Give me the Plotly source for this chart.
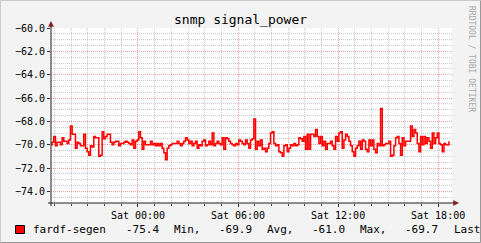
import plotly.graph_objects as go
import pandas as pd

# ---- data ----
series_name = "fardf-segen"
start_time = "2024-01-05 18:45"
step_minutes = 6
values = [
    # Fri 18:45 ..
    -70.0, -69.8, -69.3, -70.1, -69.8, -69.8, -70.0, -69.4, -69.7, -69.7,
    -69.9, -69.6, -68.4, -69.1, -69.1, -70.3, -69.8, -69.9, -70.1, -70.1,
    -69.1, -70.3, -70.6, -70.9, -70.1, -70.2, -69.3, -69.4, -69.4, -71.0,
    -70.9, -68.9, -69.5, -69.3, -69.1, -69.1, -69.8, -70.0, -69.8, -69.7,
    -69.7, -70.1, -69.9, -69.9, -69.8, -69.7, -69.8, -69.9, -70.0, -69.6,
    -70.3, -69.7, -69.6, -68.9, -69.4, -70.4, -69.7, -70.0, -70.0, -70.0,
    -69.7, -70.0, -69.9,
    -70.1, -69.9, -70.1, -69.9, -70.3, -70.7, -71.3, -70.3, -70.1, -70.0,
    -69.9, -69.9, -69.9, -69.7, -69.9, -70.1, -69.9, -69.7, -69.4, -69.6,
    -69.9, -69.7, -70.1, -69.9, -69.7, -70.3, -70.0, -70.1, -69.7, -69.6,
    -70.1, -70.0, -69.7, -70.0, -69.0, -70.1, -69.9, -69.7, -69.9, -70.0,
    -69.4, -70.4, -69.4, -69.5, -69.7, -69.9, -70.0, -70.1, -69.9, -70.0,
    -69.6, -69.7, -69.9, -70.0, -69.6, -69.9, -70.3, -69.6, -69.5,
    -67.8, -70.4, -69.7, -70.1, -69.6, -70.4, -70.3, -70.6, -70.3, -69.9,
    -69.0, -68.9, -69.9, -70.1, -70.0, -70.6, -70.7, -71.0, -70.1, -70.0,
    -70.6, -70.3, -70.0, -70.1, -69.9, -70.1, -70.0, -69.4, -69.5, -69.7,
    -69.3, -70.4, -69.1, -70.4, -69.1, -69.1, -69.3, -68.7, -69.3, -69.9,
    -69.3, -70.1, -69.7, -70.4, -69.9, -69.9, -69.7, -70.1, -70.4, -69.3,
    -69.7, -69.0, -68.9, -70.3, -69.6, -69.1, -69.3, -69.7, -70.1, -70.6,
    -71.0,
    -70.3, -70.1, -69.7, -70.4, -69.6, -69.7, -70.4, -70.6, -69.6, -70.1,
    -69.6, -70.4, -70.7, -69.9, -70.1, -66.9, -70.1, -70.0, -69.9, -69.9,
    -69.7, -71.0, -70.9, -70.1, -69.4, -69.3, -69.9, -70.9, -69.4, -70.1,
    -69.7, -69.7, -69.7, -68.4, -69.3, -68.7, -69.0, -69.9, -70.6, -69.3,
    -70.0, -69.3, -69.9, -69.4, -69.7, -70.3, -69.0, -69.9, -69.4, -69.0,
    -69.9, -70.0, -70.6, -69.9, -70.0, -70.0, -69.7,
]
times = pd.date_range(start_time, periods=len(values), freq=f"{step_minutes}min")
x_range = ["2024-01-05 18:47", "2024-01-06 18:50"]
y_range = [-75, -60]
title_text = "snmp signal_power"
legend_items = ["fardf-segen", "-75.4", "Min,", "-69.9", "Avg,", "-61.0", "Max,", "-69.7", "Last"]
legend_px = [31, 124, 172, 217, 265, 310, 358, 403, 452]

# ---- layout helpers (pixel -> paper) ----
W, H = 481, 243
PL, PR, PT, PB = 51, 452, 28, 203
def px(x):
    return (x - PL) / (PR - PL)
def py(y):
    return (PB - y) / (PB - PT)

FONT = "DejaVu Sans Mono"
fig = go.Figure()
fig.add_trace(go.Scatter(
    x=times, y=values, mode="lines", line=dict(color="#ff0000", width=1.5, shape="hv"),
    showlegend=False, hoverinfo="skip"))

minor_grid = "rgba(140,140,140,0.45)"
major_grid = "rgba(215,70,70,0.5)"
dash = "1px,1px"
fig.update_layout(
    width=W, height=H,
    margin=dict(l=PL, r=W - PR, t=PT, b=H - PB),
    paper_bgcolor="#f3f3f3", plot_bgcolor="#ffffff",
    font=dict(family=FONT, size=10, color="#000000"),
    showlegend=False,
    xaxis=dict(
        type="date", range=x_range, tickformat="%a %H:%M",
        tick0="2024-01-06 00:00", dtick=6 * 3600 * 1000,
        showgrid=True, gridcolor=major_grid, griddash=dash, gridwidth=1,
        minor=dict(dtick=3600 * 1000, showgrid=True, gridcolor=minor_grid, griddash=dash,
                   ticks="outside", ticklen=2, tickcolor="#444"),
        ticks="outside", ticklen=3, tickcolor="#333",
        showline=False, zeroline=False, fixedrange=True,
        tickfont=dict(family=FONT, size=10),
    ),
    yaxis=dict(
        range=y_range, tick0=-60, dtick=2, tickformat=".1f",
        showgrid=True, gridcolor=major_grid, griddash=dash, gridwidth=1,
        minor=dict(dtick=0.5, showgrid=True, gridcolor=minor_grid, griddash=dash),
        ticks="outside", ticklen=3, tickcolor="#333",
        showline=False, zeroline=False, fixedrange=True,
        tickfont=dict(family=FONT, size=10),
    ),
)

shapes = []
# frame
shapes.append(dict(type="line", xref="paper", yref="paper", x0=px(0.5), x1=px(480.5), y0=py(0.5), y1=py(0.5), line=dict(color="#cbcbcb", width=1)))
shapes.append(dict(type="line", xref="paper", yref="paper", x0=px(0.5), x1=px(0.5), y0=py(0.5), y1=py(242.5), line=dict(color="#cbcbcb", width=1)))
shapes.append(dict(type="line", xref="paper", yref="paper", x0=px(480.5), x1=px(480.5), y0=py(0.5), y1=py(242.5), line=dict(color="#999999", width=1)))
shapes.append(dict(type="line", xref="paper", yref="paper", x0=px(0.5), x1=px(480.5), y0=py(242.5), y1=py(242.5), line=dict(color="#999999", width=1)))
# axes
shapes.append(dict(type="line", xref="paper", yref="paper", x0=px(51), x1=px(51), y0=py(206), y1=py(24), line=dict(color="#1f1f1f", width=1)))
shapes.append(dict(type="line", xref="paper", yref="paper", x0=px(48), x1=px(455), y0=py(203), y1=py(203), line=dict(color="#1f1f1f", width=1)))
# arrows
shapes.append(dict(type="path", xref="paper", yref="paper",
                   path=f"M {px(48.5)} {py(26.5)} L {px(53.5)} {py(26.5)} L {px(51)} {py(21.5)} Z",
                   fillcolor="#7f1f1f", line=dict(color="#7f1f1f", width=0.5)))
shapes.append(dict(type="path", xref="paper", yref="paper",
                   path=f"M {px(453.5)} {py(200.5)} L {px(453.5)} {py(205.5)} L {px(458.5)} {py(203)} Z",
                   fillcolor="#7f1f1f", line=dict(color="#7f1f1f", width=0.5)))
# legend swatch
shapes.append(dict(type="rect", xref="paper", yref="paper", x0=px(15.5), x1=px(24.5), y0=py(225.5), y1=py(233.5),
                   fillcolor="#ff0000", line=dict(color="#000000", width=1)))
fig.update_layout(shapes=shapes)

ann = []
ann.append(dict(text=title_text, xref="paper", yref="paper", x=px(240), y=py(20), xanchor="center", yanchor="middle",
                showarrow=False, font=dict(family=FONT, size=13, color="#000")))
ann.append(dict(text="RRDTOOL / TOBI OETIKER", xref="paper", yref="paper", x=px(472), y=py(59), xanchor="center", yanchor="middle",
                textangle=90, showarrow=False, font=dict(family=FONT, size=8, color="#a8a8a8")))
for t, p in zip(legend_items, legend_px):
    ann.append(dict(text=t, xref="paper", yref="paper", x=px(p), y=py(229.5), xanchor="left", yanchor="middle",
                    showarrow=False, font=dict(family=FONT, size=11, color="#000")))
fig.update_layout(annotations=ann)

fig.write_html("out.html")
